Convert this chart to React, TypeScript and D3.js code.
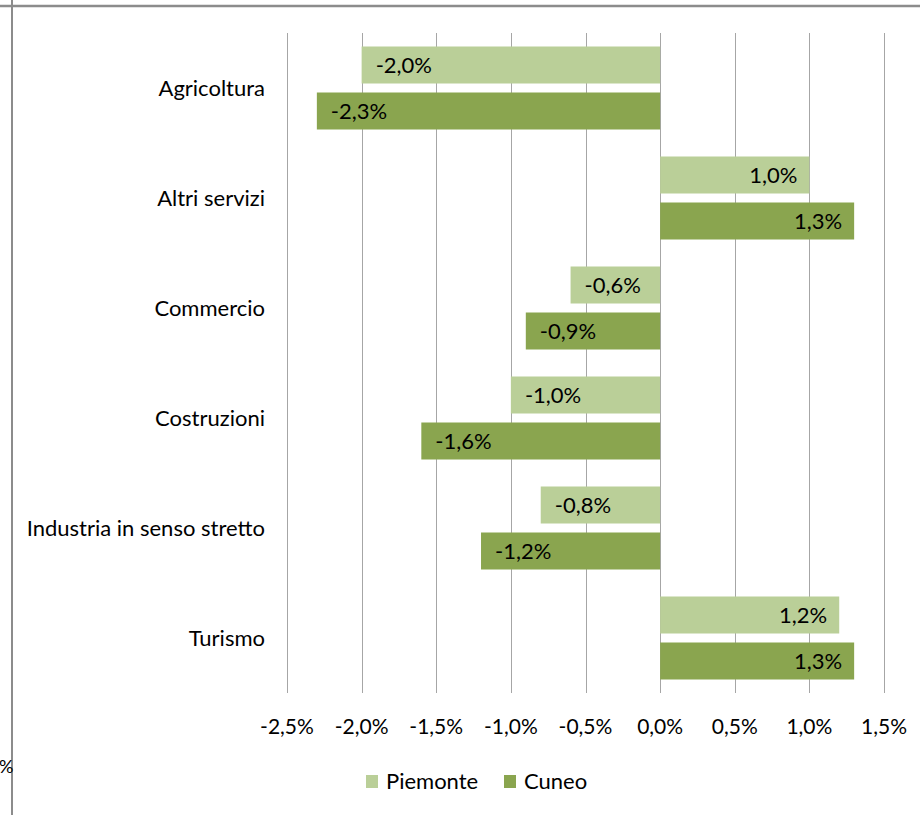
import React from "react";
import * as d3 from "d3";

const categories = ["Agricoltura", "Altri servizi", "Commercio", "Costruzioni", "Industria in senso stretto", "Turismo"];
const seriesNames = ["Piemonte", "Cuneo"];
const piemonte = [-2.0, 1.0, -0.6, -1.0, -0.8, 1.2];
const cuneo = [-2.3, 1.3, -0.9, -1.6, -1.2, 1.3];
const ticks = [-2.5, -2.0, -1.5, -1.0, -0.5, 0, 0.5, 1.0, 1.5];
const colors = ["#BACF98", "#8AA54F"];

const W = 920;
const H = 815;
const FONT = "Lato, 'Open Sans', sans-serif";

const fmt = (v: number) => v.toFixed(1).replace(".", ",") + "%";

export default function App() {
  const x = d3.scaleLinear().domain([-2.5, 1.5]).range([287, 884]);
  const y = d3.scaleBand<string>().domain(categories).range([33, 693]);
  const barH = 37;
  const gap = 9;
  const series = [piemonte, cuneo];

  return (
    <svg width={W} height={H} style={{ position: "absolute", left: 0, top: 0, background: "#fff" }} fontFamily={FONT}>
      <rect x={0} y={0} width={W} height={H} fill="#fff" />
      {/* frame */}
      <line x1={0} x2={W} y1={6} y2={6} stroke="#8c8c8c" strokeWidth={2.5} />
      <line x1={12} x2={12} y1={0} y2={H} stroke="#8c8c8c" strokeWidth={2} />
      <text x={-1} y={773} fontSize={18} fill="#000">%</text>

      {/* gridlines */}
      {ticks.map((t) => (
        <line key={t} x1={Math.round(x(t)) + 0.5} x2={Math.round(x(t)) + 0.5} y1={33} y2={693} stroke="#a6a6a6" strokeWidth={1} />
      ))}

      {/* bars */}
      {categories.map((c, i) => {
        const cy = (y(c) as number) + y.bandwidth() / 2;
        return (
          <g key={c}>
            {series.map((s, k) => {
              const v = s[i];
              const top = cy - (barH * 2 + gap) / 2 + k * (barH + gap);
              const x0 = x(Math.min(0, v));
              const x1 = x(Math.max(0, v));
              const neg = v < 0;
              return (
                <g key={k}>
                  <rect x={x0} y={top} width={x1 - x0} height={barH} fill={colors[k]} />
                  <text
                    x={neg ? x0 + 14 : x1 - 12}
                    y={top + barH / 2}
                    dy="0.35em"
                    textAnchor={neg ? "start" : "end"}
                    fontSize={22}
                    fill="#000"
                  >
                    {fmt(v)}
                  </text>
                </g>
              );
            })}
            <text x={265} y={cy} dy="0.35em" textAnchor="end" fontSize={22} fill="#000">
              {c}
            </text>
          </g>
        );
      })}

      {/* x tick labels */}
      {ticks.map((t) => (
        <text key={t} x={x(t)} y={727} dy="0.35em" textAnchor="middle" fontSize={21} fill="#000">
          {fmt(t)}
        </text>
      ))}

      {/* legend */}
      {seriesNames.map((n, k) => {
        const lx = k === 0 ? 366 : 504;
        return (
          <g key={n}>
            <rect x={lx} y={775} width={12} height={13} fill={colors[k]} />
            <text x={lx + 20} y={781} dy="0.35em" fontSize={22} fill="#000">
              {n}
            </text>
          </g>
        );
      })}
    </svg>
  );
}
